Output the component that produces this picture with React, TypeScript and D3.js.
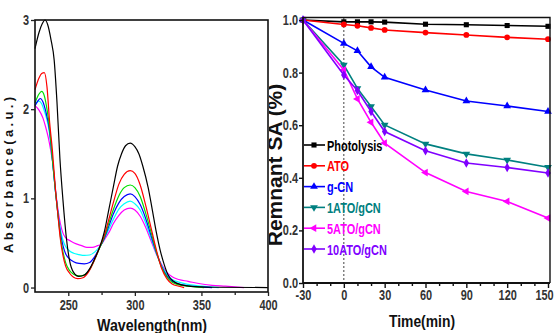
import React, { useEffect, useRef } from 'react';
import * as d3 from 'd3';

// ---- left panel: UV-vis spectra ----
const wlBlack = [225, 228, 230.5, 232.5, 234.5, 237, 239.4, 241.5, 243.7, 246, 248.6, 251, 254, 258, 262, 266, 270, 274, 277, 280, 284, 287, 290, 293, 296.5, 300, 303, 306, 310, 313, 316, 319, 322, 325, 329, 335, 345, 360, 400];
const absBlack = [2.68, 2.86, 2.96, 3.0, 2.95, 2.78, 2.55, 2.08, 1.45, 0.98, 0.55, 0.3, 0.17, 0.125, 0.14, 0.21, 0.33, 0.47, 0.62, 0.84, 1.14, 1.36, 1.5, 1.59, 1.62, 1.58, 1.5, 1.36, 1.12, 0.88, 0.63, 0.42, 0.26, 0.14, 0.07, 0.03, 0.01, 0.003, 0];

const wlRed = [225, 228, 230, 232, 234, 236, 238, 240.5, 242, 244, 246, 248, 251, 254, 257, 261, 265, 270, 274, 277, 280, 284, 288, 292, 296.5, 300, 304, 308, 312, 316, 320, 324, 328, 333, 337];
const absRed = [2.22, 2.35, 2.4, 2.41, 2.25, 1.85, 1.55, 1.08, 0.85, 0.55, 0.36, 0.24, 0.16, 0.115, 0.1, 0.11, 0.17, 0.32, 0.47, 0.58, 0.74, 0.96, 1.16, 1.27, 1.31, 1.28, 1.15, 0.93, 0.68, 0.43, 0.22, 0.1, 0.04, 0.015, 0];

const wlGreen = [225, 228, 230, 232, 234, 236, 238, 240.5, 242, 244, 246, 248, 251, 254, 258, 262, 266, 270, 274, 277, 280, 284, 288, 292, 296.5, 300, 304, 308, 312, 316, 320, 324, 328, 333, 340, 352];
const absGreen = [2.07, 2.17, 2.2, 2.15, 2.0, 1.78, 1.45, 1.06, 0.85, 0.58, 0.4, 0.28, 0.19, 0.15, 0.13, 0.14, 0.2, 0.32, 0.46, 0.56, 0.7, 0.88, 1.03, 1.12, 1.15, 1.12, 1.02, 0.84, 0.63, 0.41, 0.23, 0.12, 0.06, 0.03, 0.015, 0];

const wlBlue = [225, 227, 229, 231, 233, 236, 238, 240.5, 242, 244, 246, 248, 251, 254, 258, 262, 266, 270, 274, 277, 280, 284, 288, 292, 296.5, 300, 304, 308, 312, 316, 320, 324, 328, 333, 340, 350, 358];
const absBlue = [2.04, 2.09, 2.12, 2.08, 1.98, 1.75, 1.45, 1.06, 0.86, 0.62, 0.47, 0.38, 0.32, 0.29, 0.27, 0.265, 0.28, 0.35, 0.46, 0.55, 0.67, 0.83, 0.95, 1.02, 1.05, 1.02, 0.93, 0.78, 0.59, 0.4, 0.24, 0.13, 0.07, 0.04, 0.02, 0.008, 0];

const wlCyan = [225, 228, 230, 232, 234, 236, 238, 240.5, 242, 244, 246, 248, 251, 254, 258, 262, 266, 270, 274, 277, 280, 284, 288, 292, 296.5, 300, 304, 308, 312, 316, 320, 324, 328, 333, 340, 350, 363];
const absCyan = [2.04, 2.09, 2.06, 1.98, 1.88, 1.72, 1.44, 1.06, 0.87, 0.66, 0.53, 0.46, 0.41, 0.385, 0.37, 0.36, 0.365, 0.4, 0.47, 0.55, 0.64, 0.77, 0.88, 0.94, 0.97, 0.94, 0.87, 0.73, 0.56, 0.39, 0.25, 0.15, 0.09, 0.06, 0.035, 0.015, 0];

const wlMagenta = [225, 228, 231, 233, 235, 237, 238.5, 240.5, 242, 244, 246, 248, 252, 256, 260, 264, 268, 272, 275, 278, 281, 284, 288, 292, 296.5, 300, 304, 308, 312, 316, 320, 324, 328, 333, 340, 348, 358, 368, 382];
const absMagenta = [2.04, 1.99, 1.9, 1.8, 1.68, 1.52, 1.38, 1.08, 0.9, 0.72, 0.61, 0.56, 0.52, 0.49, 0.47, 0.45, 0.45, 0.47, 0.49, 0.56, 0.63, 0.72, 0.81, 0.87, 0.89, 0.87, 0.8, 0.68, 0.53, 0.38, 0.26, 0.17, 0.12, 0.09, 0.07, 0.045, 0.025, 0.015, 0];

const spectra = [
  { wl: wlBlack, abs: absBlack, color: '#000000' },
  { wl: wlRed, abs: absRed, color: '#ff0000' },
  { wl: wlGreen, abs: absGreen, color: '#00e000' },
  { wl: wlBlue, abs: absBlue, color: '#0000ff' },
  { wl: wlCyan, abs: absCyan, color: '#00ffff' },
  { wl: wlMagenta, abs: absMagenta, color: '#ff00ff' },
];
// draw order: magenta first so black sits on top
const drawOrder = [5, 4, 3, 2, 1, 0];

const wlTicks = [250, 300, 350, 400];
const wlMinor = [275, 325, 375];
const absTicks = [0, 1, 2, 3];

// ---- right panel: degradation kinetics ----
const time = [-30, 0, 10, 20, 30, 60, 90, 120, 150];
const photolysis = [1.0, 0.993, 0.993, 0.993, 0.992, 0.984, 0.982, 0.979, 0.976];
const ato = [1.0, 0.983, 0.978, 0.97, 0.962, 0.952, 0.943, 0.934, 0.927];
const gcn = [1.0, 0.911, 0.883, 0.822, 0.782, 0.734, 0.692, 0.673, 0.652];
const ato1 = [1.0, 0.829, 0.74, 0.671, 0.601, 0.529, 0.491, 0.468, 0.44];
const ato5 = [1.0, 0.81, 0.7, 0.611, 0.532, 0.42, 0.348, 0.31, 0.247];
const ato10 = [1.0, 0.791, 0.732, 0.652, 0.576, 0.503, 0.456, 0.439, 0.418];

const seriesNames = ['Photolysis', 'ATO', 'g-CN', '1ATO/gCN', '5ATO/gCN', '10ATO/gCN'];
const seriesValues = [photolysis, ato, gcn, ato1, ato5, ato10];
const seriesColors = ['#000000', '#ff0000', '#0000ff', '#008080', '#ff00ff', '#8000ff'];
const seriesSymbols = [d3.symbolSquare, d3.symbolCircle, d3.symbolTriangle, 'down', 'left', d3.symbolDiamond];

const timeTicks = [-30, 0, 30, 60, 90, 120, 150];
const timeMinor = [-20, -10, 10, 20, 40, 50, 70, 80, 100, 110, 130, 140];
const remTicks = [0, 0.2, 0.4, 0.6, 0.8, 1.0];

const sans = "'Liberation Sans', Arial, sans-serif";

function App() {
  const ref = useRef<SVGSVGElement>(null);

  useEffect(() => {
    drawChart();
  });

  function drawChart() {
    const svg = d3.select(ref.current);
    svg.selectAll('*').remove();

    svg.append('rect').attr('width', 555).attr('height', 333).attr('fill', 'white');

    // ================= left panel =================
    const xL = d3.scaleLinear().domain([225, 400]).range([35, 268]);
    const yL = d3.scaleLinear().domain([-0.05, 3]).range([292, 20]);

    // right panel y label, its left edge is cut at the left panel frame
    svg.append('clipPath').attr('id', 'lblclip')
      .append('rect').attr('x', 269).attr('y', 0).attr('width', 40).attr('height', 333);
    svg.append('g')
      .attr('clip-path', 'url(#lblclip)')
      .append('text')
      .attr('transform', 'translate(282,165) rotate(-90)')
      .attr('text-anchor', 'middle')
      .style('font-family', sans)
      .style('font-weight', 'bold')
      .style('font-size', '21px')
      .attr('fill', '#111')
      .text('Remnant SA (%)');

    const gL = svg.append('g');
    drawOrder.forEach(i => {
      const s = spectra[i];
      const pts = s.wl.map((w, k) => [xL(w), yL(s.abs[k])] as [number, number]);
      gL.append('path')
        .attr('d', d3.line().curve(d3.curveMonotoneX)(pts))
        .attr('fill', 'none')
        .attr('stroke', s.color)
        .attr('stroke-width', 1.2);
    });

    // frame
    gL.append('rect')
      .attr('x', 35).attr('y', 20)
      .attr('width', 268 - 35).attr('height', 292 - 20)
      .attr('fill', 'none').attr('stroke', '#111').attr('stroke-width', 1.6);

    const xAxisL = svg.append('g')
      .attr('transform', 'translate(0,292)')
      .call(d3.axisBottom(xL).tickValues(wlTicks).tickSize(4).tickPadding(4).tickFormat(d => String(d)));
    const xMinorL = svg.append('g')
      .attr('transform', 'translate(0,292)')
      .call(d3.axisBottom(xL).tickValues(wlMinor).tickSize(3).tickFormat(() => ''));
    const yAxisL = svg.append('g')
      .attr('transform', 'translate(35,0)')
      .call(d3.axisLeft(yL).tickValues(absTicks).tickSize(4).tickPadding(2).tickFormat(d => String(d)));

    [xAxisL, xMinorL, yAxisL].forEach(a => {
      a.select('.domain').remove();
      a.selectAll('line').attr('stroke', '#222').attr('stroke-width', 1.3);
      a.selectAll('text')
        .attr('class', 'narrow')
        .style('font-family', sans)
        .style('font-weight', 'bold')
        .style('font-size', '14px')
        .attr('fill', '#333');
    });

    svg.append('text')
      .attr('transform', 'translate(13,175) rotate(-90)')
      .attr('text-anchor', 'middle')
      .attr('textLength', 156)
      .attr('lengthAdjust', 'spacing')
      .style('font-family', sans)
      .style('font-weight', 'bold')
      .style('font-size', '13px')
      .attr('fill', '#111')
      .text('Absorbance(a.u.)');

    svg.append('text')
      .attr('x', 152).attr('y', 331)
      .attr('text-anchor', 'middle')
      .attr('textLength', 110)
      .attr('lengthAdjust', 'spacingAndGlyphs')
      .style('font-family', sans)
      .style('font-weight', 'bold')
      .style('font-size', '16px')
      .attr('fill', '#111')
      .text('Wavelength(nm)');

    // ================= right panel =================
    const xR = d3.scaleLinear().domain([-30, 150]).range([303, 548]);
    const yR = d3.scaleLinear().domain([0, 1.0]).range([283, 20]);

    const gR = svg.append('g');

    // dotted line at t = 0
    gR.append('line')
      .attr('x1', xR(0)).attr('x2', xR(0))
      .attr('y1', 18).attr('y2', 283)
      .attr('stroke', '#444').attr('stroke-width', 1)
      .attr('stroke-dasharray', '2,2');

    const symbolPath = (sym: any, size: number) => {
      if (sym === 'down' || sym === 'left') return d3.symbol(d3.symbolTriangle, size)() as string;
      return d3.symbol(sym, size)() as string;
    };
    const symbolRot = (sym: any) => (sym === 'down' ? 180 : sym === 'left' ? -90 : 0);

    const lineR = d3.line<number>()
      .x((d, k) => xR(time[k]))
      .y(d => yR(d));

    seriesValues.forEach((vals, i) => {
      gR.append('path')
        .attr('d', lineR(vals))
        .attr('fill', 'none')
        .attr('stroke', seriesColors[i])
        .attr('stroke-width', 1.6);
      gR.selectAll(null)
        .data(vals)
        .enter()
        .append('path')
        .attr('d', symbolPath(seriesSymbols[i], 26))
        .attr('transform', (d, k) => `translate(${xR(time[k])},${yR(d)}) rotate(${symbolRot(seriesSymbols[i])})`)
        .attr('fill', seriesColors[i]);
    });

    // frame (top & right)
    gR.append('path')
      .attr('d', `M303,17.5 H550 V283`)
      .attr('fill', 'none').attr('stroke', '#111').attr('stroke-width', 1.4);

    const xAxisR = svg.append('g')
      .attr('transform', 'translate(0,283)')
      .call(d3.axisBottom(xR).tickValues(timeTicks).tickSize(5).tickPadding(2).tickFormat(d => String(d)));
    const xMinorR = svg.append('g')
      .attr('transform', 'translate(0,283)')
      .call(d3.axisBottom(xR).tickValues(timeMinor).tickSize(3).tickFormat(() => ''));
    const yAxisR = svg.append('g')
      .attr('transform', 'translate(303,0)')
      .call(d3.axisLeft(yR).tickValues(remTicks).tickSize(4).tickPadding(1).tickFormat(d3.format('.1f')));

    [xAxisR, xMinorR, yAxisR].forEach(a => {
      a.select('.domain').remove();
      a.selectAll('line').attr('stroke', '#111').attr('stroke-width', 1.4);
      a.selectAll('text')
        .attr('class', 'narrow')
        .style('font-family', sans)
        .style('font-weight', 'bold')
        .style('font-size', '14px')
        .attr('fill', '#333');
    });
    // last time label sits at the picture edge
    xAxisR.selectAll('text').filter((d: any) => d === 150).attr('dx', -4);

    // axis lines
    svg.append('line').attr('x1', 303).attr('x2', 550).attr('y1', 283).attr('y2', 283)
      .attr('stroke', '#111').attr('stroke-width', 1.8);
    svg.append('line').attr('x1', 303).attr('x2', 303).attr('y1', 17).attr('y2', 283)
      .attr('stroke', '#111').attr('stroke-width', 1.8);

    svg.append('text')
      .attr('x', 422).attr('y', 327)
      .attr('text-anchor', 'middle')
      .attr('textLength', 66)
      .attr('lengthAdjust', 'spacingAndGlyphs')
      .style('font-family', sans)
      .style('font-weight', 'bold')
      .style('font-size', '16px')
      .attr('fill', '#111')
      .text('Time(min)');

    // legend
    const legY = d3.scaleLinear().domain([0, 5]).range([145, 249]);
    const leg = svg.append('g');
    seriesNames.forEach((name, i) => {
      const y = legY(i);
      leg.append('line')
        .attr('x1', 304).attr('x2', 325)
        .attr('y1', y).attr('y2', y)
        .attr('stroke', seriesColors[i]).attr('stroke-width', 1.6);
      leg.append('path')
        .attr('d', symbolPath(seriesSymbols[i], 26))
        .attr('transform', `translate(314,${y}) rotate(${symbolRot(seriesSymbols[i])})`)
        .attr('fill', seriesColors[i]);
      leg.append('text')
        .attr('class', 'narrow legend')
        .attr('x', 327).attr('y', y + 5.5)
        .style('font-family', sans)
        .style('font-weight', 'bold')
        .style('font-size', '15px')
        .attr('fill', seriesColors[i])
        .text(name);
    });

    // squeeze the labels to mimic a narrow face
    svg.selectAll<SVGTextElement, unknown>('text.narrow').each(function () {
      const w = this.getComputedTextLength();
      const f = this.classList.contains('legend') ? 0.73 : 0.78;
      if (w > 0) {
        d3.select(this)
          .attr('textLength', w * f)
          .attr('lengthAdjust', 'spacingAndGlyphs');
      }
    });
  }

  return (
    <svg
      ref={ref}
      width={555}
      height={333}
      style={{ position: 'absolute', left: 0, top: 0 }}
    />
  );
}

export default App;
